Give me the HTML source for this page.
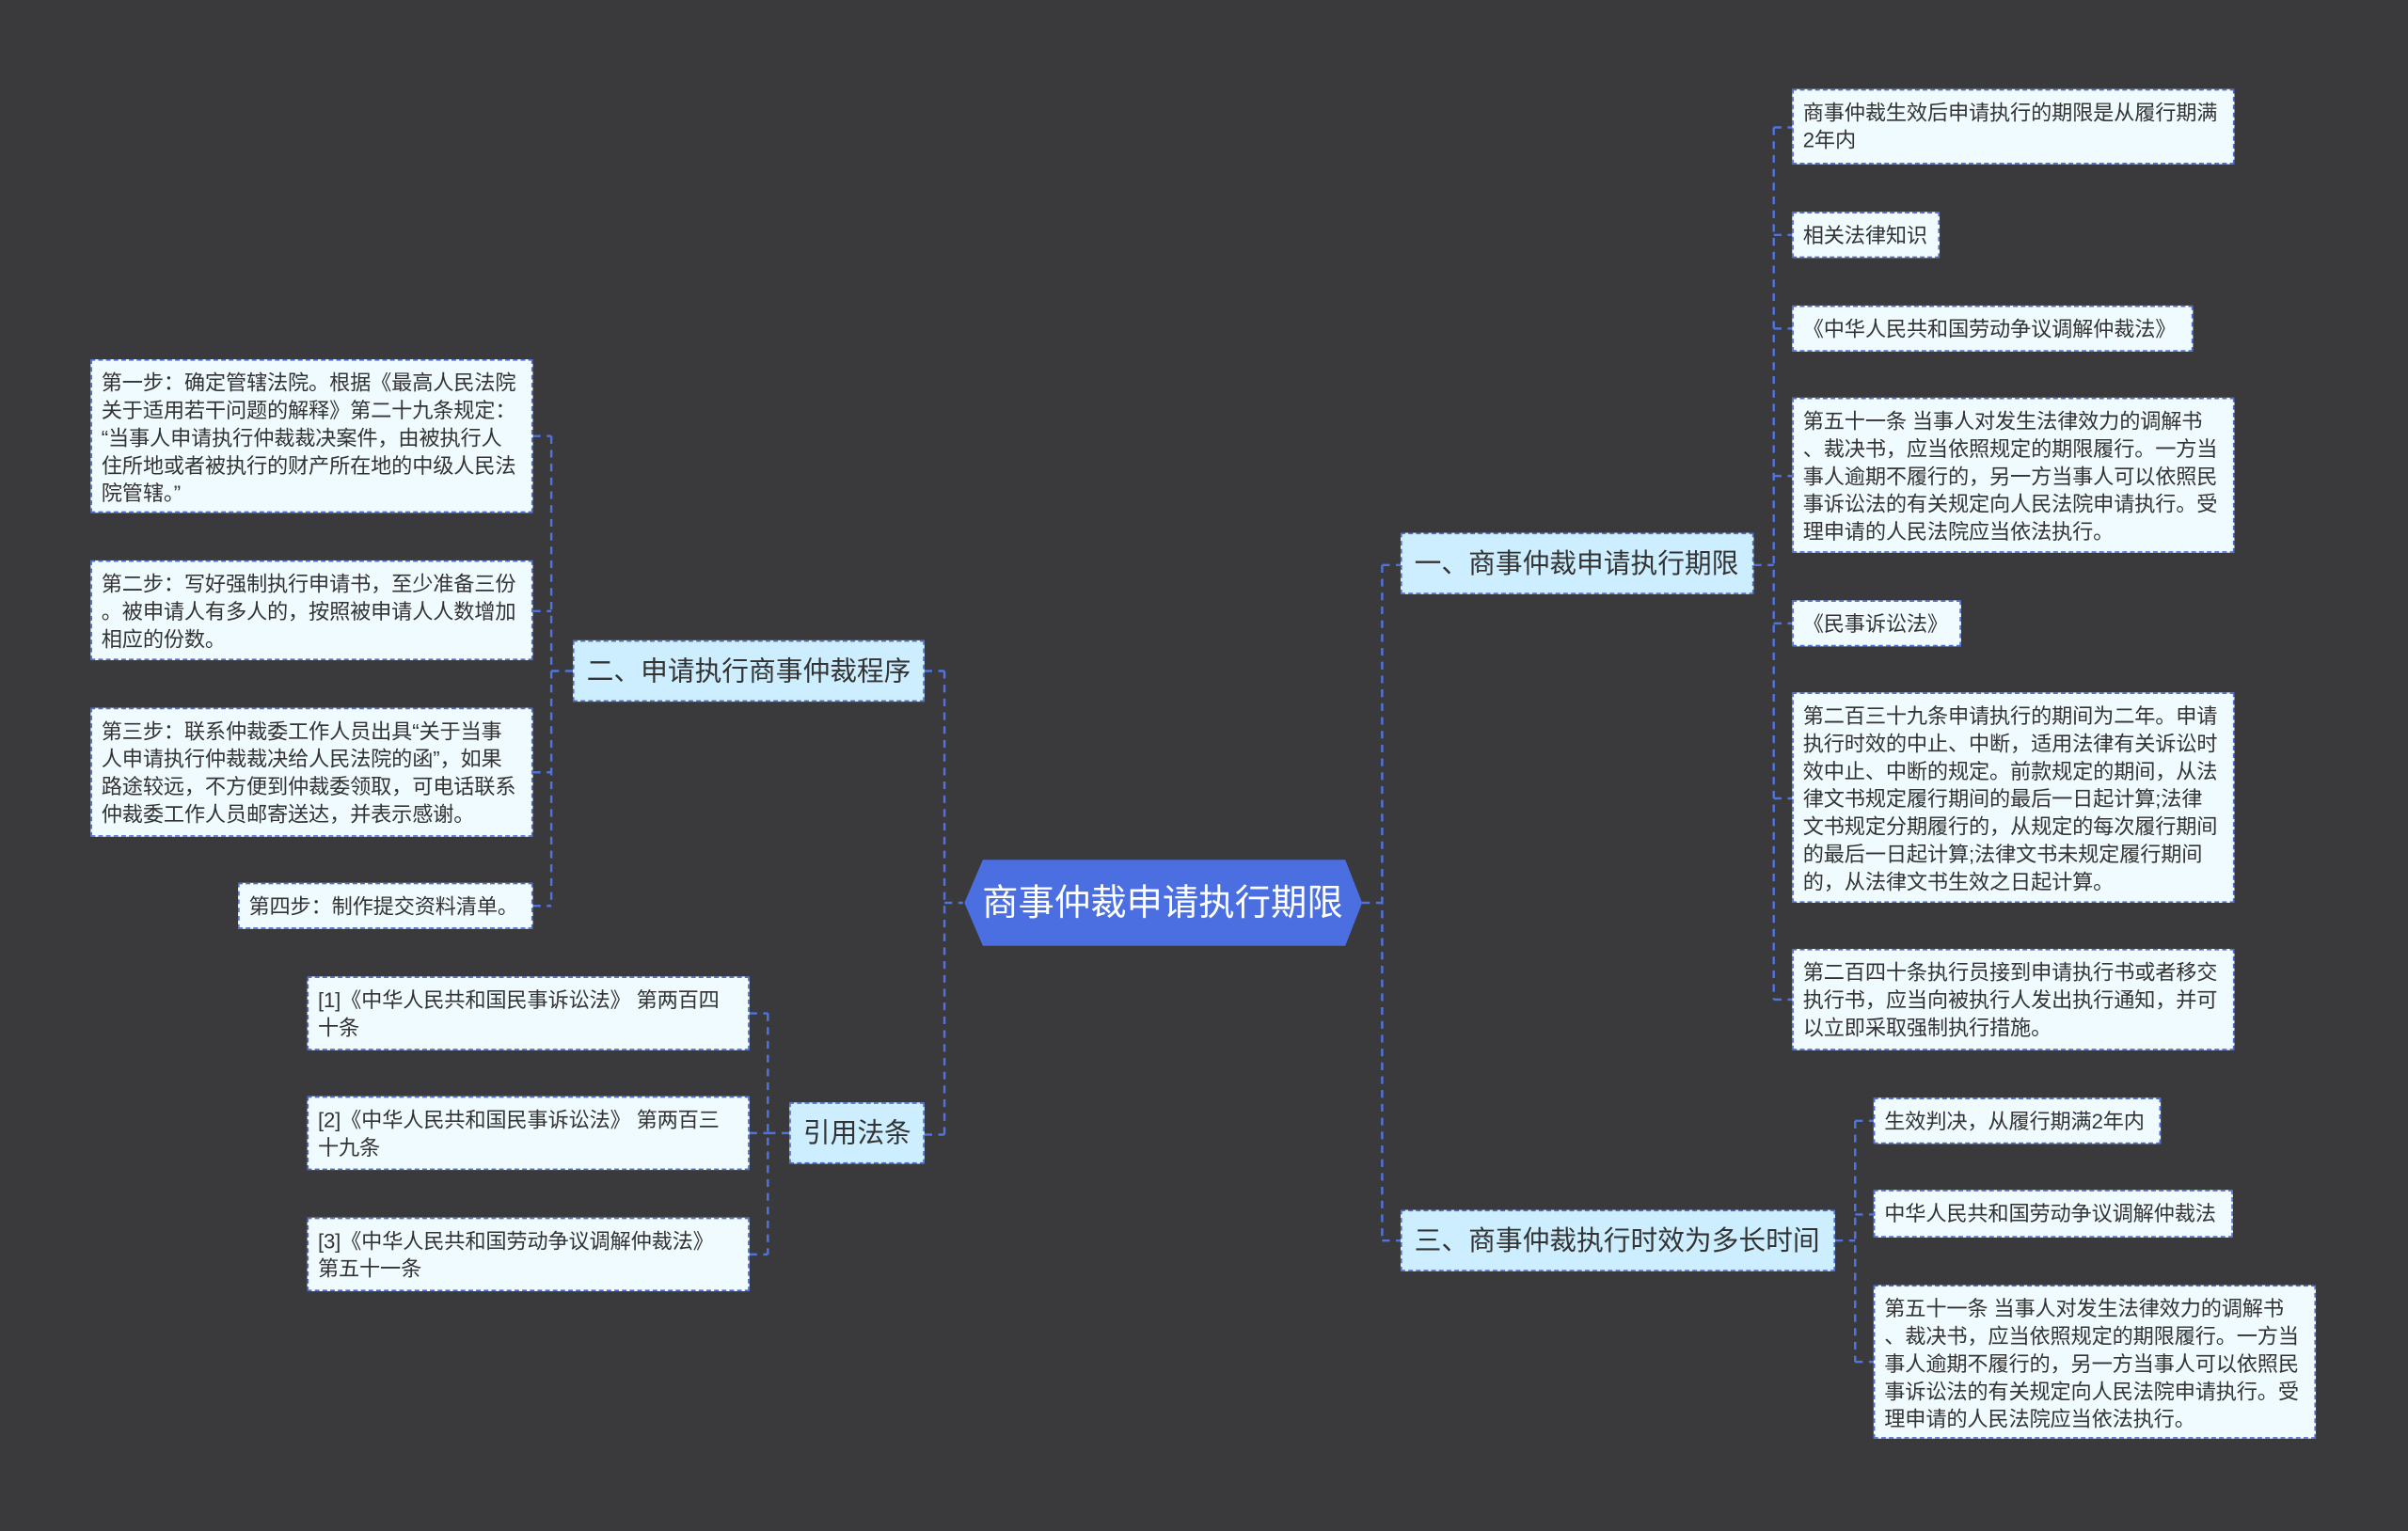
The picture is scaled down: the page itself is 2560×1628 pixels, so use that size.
<!DOCTYPE html>
<html><head><meta charset="utf-8"><style>
html,body{margin:0;padding:0;background:#3a393c;}
#wrap{position:relative;width:1568px;height:997px;transform:scale(1.63265);transform-origin:0 0;font-family:"Liberation Sans","Noto Sans CJK SC",sans-serif;}
.n{position:absolute;box-sizing:border-box;border:1px dashed #4e6fd0;background:#f0fbff;color:#333;font-size:13.6px;line-height:18px;padding:6px 6px;white-space:nowrap;letter-spacing:-0.1px;}
.b{position:absolute;box-sizing:border-box;border:1px dashed #4e6fd0;background:#cdeefe;color:#333;font-size:17.6px;line-height:38px;padding:0 8px;white-space:nowrap;}
svg{position:absolute;left:0;top:0;}
</style></head><body><div id="wrap">
<svg width="1568" height="997"><g stroke="#5173dc" stroke-width="1.5" fill="none" stroke-dasharray="5,4">
<path d="M615 437V739M602 437H615M602 739H615M615 588H627"/>
<path d="M359 284V590M347 284H359M347 398H359M347 503H359M347 590H359M359 437H373"/>
<path d="M500 660V817M488 660H500M488 738H500M488 817H500M500 738H514"/>
<path d="M900 368V808M887 588H900M900 368H912M900 808H912"/>
<path d="M1155 83V651M1142 368H1155M1155 83H1167M1155 153H1167M1155 214H1167M1155 310H1167M1155 406H1167M1155 520H1167M1155 651H1167"/>
<path d="M1208 730V887M1195 808H1208M1208 730H1220M1208 791H1220M1208 887H1220"/>
</g>
<polygon points="640,560 876,560 887,588 876,616 640,616 628,588" fill="#4b6fe0"/>
<text x="757" y="596" fill="#fff" font-size="23.5" text-anchor="middle" font-family="Liberation Sans,Noto Sans CJK SC,sans-serif">商事仲裁申请执行期限</text>
</svg>
<div class="b" style="left:373px;top:417px;width:229px;height:40px;">二、申请执行商事仲裁程序</div>
<div class="b" style="left:514px;top:718px;width:88px;height:40px;">引用法条</div>
<div class="b" style="left:912px;top:347px;width:230px;height:40px;">一、商事仲裁申请执行期限</div>
<div class="b" style="left:912px;top:788px;width:283px;height:40px;">三、商事仲裁执行时效为多长时间</div>

<div class="n" style="left:59px;top:234px;width:288px;height:100px;">第一步：确定管辖法院。根据《最高人民法院<br>关于适用若干问题的解释》第二十九条规定：<br>“当事人申请执行仲裁裁决案件，由被执行人<br>住所地或者被执行的财产所在地的中级人民法<br>院管辖。”</div>
<div class="n" style="left:59px;top:365px;width:288px;height:65px;">第二步：写好强制执行申请书，至少准备三份<br>。被申请人有多人的，按照被申请人人数增加<br>相应的份数。</div>
<div class="n" style="left:59px;top:461px;width:288px;height:84px;">第三步：联系仲裁委工作人员出具“关于当事<br>人申请执行仲裁裁决给人民法院的函”，如果<br>路途较远，不方便到仲裁委领取，可电话联系<br>仲裁委工作人员邮寄送达，并表示感谢。</div>
<div class="n" style="left:155px;top:575px;width:192px;height:30px;">第四步：制作提交资料清单。</div>

<div class="n" style="left:200px;top:636px;width:288px;height:48px;">[1]《中华人民共和国民事诉讼法》 第两百四<br>十条</div>
<div class="n" style="left:200px;top:714px;width:288px;height:48px;">[2]《中华人民共和国民事诉讼法》 第两百三<br>十九条</div>
<div class="n" style="left:200px;top:793px;width:288px;height:48px;">[3]《中华人民共和国劳动争议调解仲裁法》<br>第五十一条</div>

<div class="n" style="left:1167px;top:58px;width:288px;height:49px;">商事仲裁生效后申请执行的期限是从履行期满<br>2年内</div>
<div class="n" style="left:1167px;top:138px;width:96px;height:30px;">相关法律知识</div>
<div class="n" style="left:1167px;top:199px;width:261px;height:30px;">《中华人民共和国劳动争议调解仲裁法》</div>
<div class="n" style="left:1167px;top:259px;width:288px;height:101px;">第五十一条 当事人对发生法律效力的调解书<br>、裁决书，应当依照规定的期限履行。一方当<br>事人逾期不履行的，另一方当事人可以依照民<br>事诉讼法的有关规定向人民法院申请执行。受<br>理申请的人民法院应当依法执行。</div>
<div class="n" style="left:1167px;top:391px;width:110px;height:30px;">《民事诉讼法》</div>
<div class="n" style="left:1167px;top:451px;width:288px;height:137px;">第二百三十九条申请执行的期间为二年。申请<br>执行时效的中止、中断，适用法律有关诉讼时<br>效中止、中断的规定。前款规定的期间，从法<br>律文书规定履行期间的最后一日起计算;法律<br>文书规定分期履行的，从规定的每次履行期间<br>的最后一日起计算;法律文书未规定履行期间<br>的，从法律文书生效之日起计算。</div>
<div class="n" style="left:1167px;top:618px;width:288px;height:66px;">第二百四十条执行员接到申请执行书或者移交<br>执行书，应当向被执行人发出执行通知，并可<br>以立即采取强制执行措施。</div>

<div class="n" style="left:1220px;top:715px;width:187px;height:30px;">生效判决，从履行期满2年内</div>
<div class="n" style="left:1220px;top:775px;width:234px;height:31px;">中华人民共和国劳动争议调解仲裁法</div>
<div class="n" style="left:1220px;top:837px;width:288px;height:100px;">第五十一条 当事人对发生法律效力的调解书<br>、裁决书，应当依照规定的期限履行。一方当<br>事人逾期不履行的，另一方当事人可以依照民<br>事诉讼法的有关规定向人民法院申请执行。受<br>理申请的人民法院应当依法执行。</div>
</div></body></html>
